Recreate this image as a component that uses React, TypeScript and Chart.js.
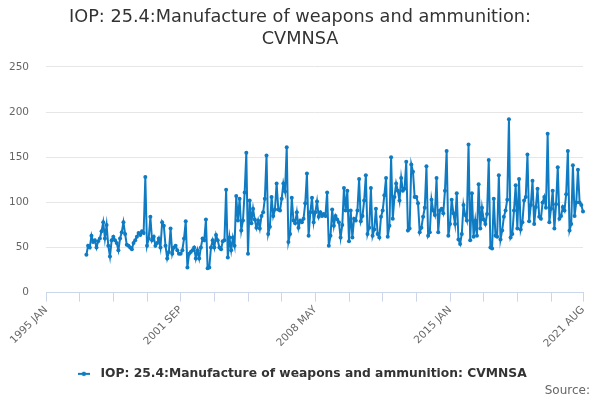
import React, { useEffect, useRef } from "react";
import { Chart, registerables } from "chart.js";

Chart.register(...registerables);

// ---- Data ----
const firstYear = 1995;
const lastYear = 2021;
const lastMonth = 8; // AUG
const monthNames = ["JAN", "FEB", "MAR", "APR", "MAY", "JUN", "JUL", "AUG", "SEP", "OCT", "NOV", "DEC"];
const dataStartIndex = 24; // 1997 JAN
const tickLabelIndices = [0, 80, 160, 240, 319];
const minorTickEvery = 20;

const seriesName = "IOP: 25.4:Manufacture of weapons and ammunition: CVMNSA";
const titleLines = ["IOP: 25.4:Manufacture of weapons and ammunition:", "CVMNSA"];

const values1997to2001 = [
  42, 52, 50, 63, 56, 58, 50, 57, 60, 68, 78, 60,
  75, 52, 40, 58, 62, 58, 55, 47, 60, 67, 78, 65,
  53, 52, 50, 48, 55, 58, 62, 66, 64, 68, 66, 128,
  52, 60, 84, 58, 62, 52, 55, 60, 50, 78, 74, 52,
  38, 45, 71,
];
const values2001to2004 = [
  43, 50, 52, 47, 43, 43, 47, 60, 79, 28,
  43, 45, 47, 50, 38, 47, 38, 50, 60, 58,
  81, 27, 28, 50, 58, 50, 64, 58, 50, 48,
  57, 58, 114, 39, 61, 47, 61, 52, 107, 80,
  104, 69, 80, 111, 155, 43,
];
const values2005to2009 = [
  102, 77, 93, 81, 72, 80, 71, 85, 89, 104,
  152, 65, 73, 106, 85, 92, 121, 92, 91, 104,
  121, 112, 161, 56, 65, 105, 80, 77, 89, 72,
  80, 78, 82, 99, 132, 63, 89, 105, 78, 89,
  101, 84, 89, 85, 87, 85, 111, 52, 63, 92,
  74, 85, 81, 78,
];
const values2009to2013 = [
  61, 75, 116, 91, 113, 57, 91, 61, 82, 80,
  91, 126, 79, 85, 102, 130, 65, 72, 116, 63,
  70, 93, 65, 61, 84, 91, 108, 127, 62, 74,
  150, 82, 106, 121, 113, 102, 127, 113, 115, 145,
  69, 71, 142, 134, 106, 106, 99, 67, 72, 84,
];
const values2013to2017 = [
  94, 140, 63, 67, 103, 91, 86, 127, 67, 91,
  93, 88, 113, 157, 63, 76, 103, 88, 76, 110,
  59, 54, 65, 97, 86, 80, 164, 58, 110, 62,
  80, 63, 120, 71, 94, 81, 76, 87, 147, 50,
  49, 104, 63, 62, 130, 59, 69, 84, 91, 103,
  192,
];
const values2018to2021 = [
  61, 65, 91, 119, 71, 126, 70, 78, 102, 106,
  153, 79, 97, 124, 76, 95, 115, 84, 82, 100,
  106, 94, 176, 78, 93, 113, 71, 98, 139, 82,
  85, 95, 91, 109, 157, 69, 76, 141, 85, 100,
  136, 100, 97, 90,
];

const yMin = 0;
const yMax = 250;
const yStep = 50;

const lineColor = "#0f7bc3";
const fontFamily = "'DejaVu Sans', 'Lucida Grande', sans-serif";

function buildCategories(): string[] {
  const out: string[] = [];
  for (let y = firstYear; y <= lastYear; y++) {
    for (let m = 0; m < 12; m++) {
      if (y === lastYear && m >= lastMonth) break;
      out.push(`${y} ${monthNames[m]}`);
    }
  }
  return out;
}

function makeLegendSymbol(): HTMLCanvasElement {
  const c = document.createElement("canvas");
  c.width = 12;
  c.height = 8;
  const g = c.getContext("2d")!;
  g.strokeStyle = lineColor;
  g.lineWidth = 2;
  g.beginPath();
  g.moveTo(0, 4);
  g.lineTo(12, 4);
  g.stroke();
  g.fillStyle = lineColor;
  g.beginPath();
  g.arc(6, 4, 2.2, 0, Math.PI * 2);
  g.fill();
  return c;
}

export default function App() {
  const canvasRef = useRef<HTMLCanvasElement | null>(null);

  useEffect(() => {
    document.body.style.margin = "0";
    const categories = buildCategories();
    const series: (number | null)[] = new Array(dataStartIndex).fill(null).concat(
      values1997to2001,
      values2001to2004,
      values2005to2009,
      values2009to2013,
      values2013to2017,
      values2018to2021
    );
    const lastIdx = categories.length - 1;

    const chart = new Chart(canvasRef.current!, {
      type: "line",
      data: {
        labels: categories,
        datasets: [
          {
            label: seriesName,
            data: series,
            borderColor: lineColor,
            backgroundColor: lineColor,
            borderWidth: 2,
            pointRadius: 2,
            pointHoverRadius: 3,
            pointBorderWidth: 0,
            pointBackgroundColor: lineColor,
            tension: 0,
            spanGaps: false,
          },
        ],
      },
      options: {
        animation: false,
        responsive: false,
        maintainAspectRatio: false,
        layout: { padding: { left: 0, right: 0, top: 0, bottom: 10 } },
        plugins: {
          title: {
            display: true,
            text: titleLines,
            color: "#333333",
            font: { family: fontFamily, size: 17.7, weight: "normal", lineHeight: 1.24 },
            padding: { top: 6, bottom: 17 },
          },
          legend: {
            display: true,
            position: "bottom",
            labels: {
              usePointStyle: true,
              pointStyle: makeLegendSymbol(),
              pointStyleWidth: 21,
              color: "#333333",
              font: { family: fontFamily, size: 12.3, weight: "bold" },
              padding: 10,
            },
          },
          tooltip: { enabled: false },
        },
        scales: {
          x: {
            type: "category",
            offset: false,
            afterFit: (s: any) => {
              s.height = 65;
            },
            grid: {
              drawOnChartArea: false,
              drawTicks: true,
              tickLength: 9,
              color: (ctx: any) =>
                ctx.index % minorTickEvery === 0 || ctx.index === lastIdx ? "#ccd6eb" : "rgba(0,0,0,0)",
            },
            border: { display: true, color: "#ccd6eb" },
            ticks: {
              autoSkip: false,
              maxRotation: 45,
              minRotation: 45,
              color: "#666666",
              padding: 2,
              font: { family: fontFamily, size: 10.5 },
              callback: (_v: any, i: number) => (tickLabelIndices.includes(i) ? categories[i] : ""),
            },
          },
          y: {
            min: yMin,
            max: yMax,
            afterFit: (s: any) => {
              s.width = 46;
            },
            ticks: {
              stepSize: yStep,
              color: "#666666",
              padding: 17,
              font: { family: fontFamily, size: 10.5 },
            },
            grid: { color: "#e6e6e6", drawTicks: false },
            border: { display: false },
          },
          ySpacer: {
            position: "right",
            min: yMin,
            max: yMax,
            display: true,
            afterFit: (s: any) => {
              s.width = 17;
            },
            ticks: { display: false },
            grid: { display: false, drawOnChartArea: false },
            border: { display: false },
          },
        },
      },
    });
    return () => chart.destroy();
  }, []);

  return (
    <div style={{ position: "fixed", left: 0, top: 0, width: 600, height: 400, background: "#fff" }}>
      <canvas ref={canvasRef} width={600} height={400} style={{ width: 600, height: 400 }} />
      <div
        style={{
          position: "absolute",
          right: 10,
          top: 382,
          fontFamily: fontFamily,
          fontSize: 12,
          color: "#666666",
          lineHeight: "16px",
        }}
      >
        Source:
      </div>
    </div>
  );
}
